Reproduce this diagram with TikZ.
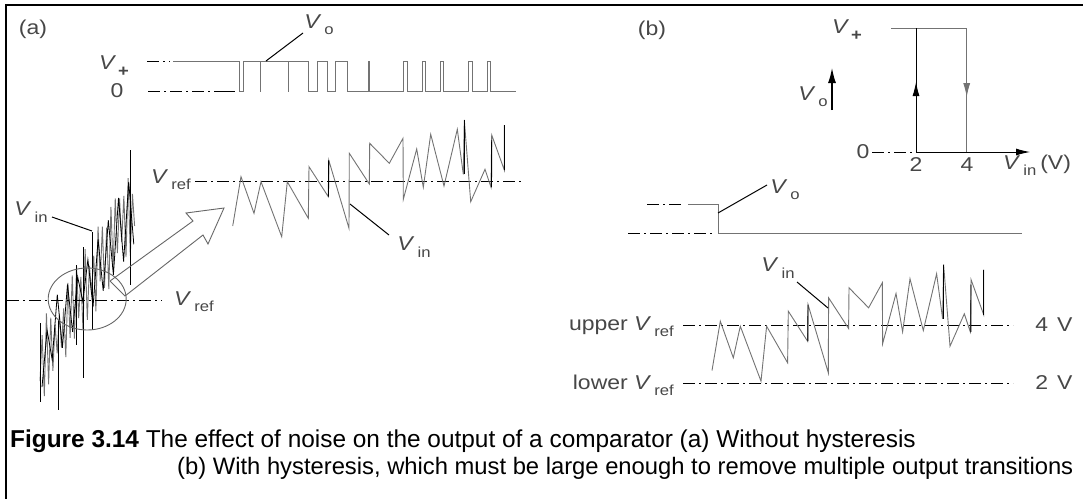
\documentclass[tikz,border=0pt]{standalone}
\usepackage{fontspec}
\setmainfont{Liberation Sans}
\newfontfamily\labfont{Liberation Sans}[FakeStretch=1.15]
\usetikzlibrary{arrows.meta}
\newcommand\Vx[1]{\textit{V}\kern3pt\raisebox{-0.6ex}{\fontsize{14.5}{14.5}\selectfont #1}}
\begin{document}
\begin{tikzpicture}[x=1pt,y=-1pt,
  lab/.style={font=\labfont\fontsize{20}{20}\selectfont, text=black!72, inner sep=0pt},
  captxt/.style={font=\fontsize{24.4}{24.4}\selectfont, text=black, inner sep=0pt, anchor=base west},
  wave/.style={black!55, line width=0.9pt},
  blk/.style={black, line width=0.9pt},
  dd/.style={black, line width=0.9pt, dash pattern=on 12pt off 4pt on 2pt off 4pt},
  lead/.style={black, line width=1pt},
  frame/.style={black, line width=1.5pt},
  zig/.pic={
    \draw[wave] (232.7,226) -- (241,176.7) -- (254,213.3) -- (261,181.7) -- (281.7,236.7) -- (287.3,181.7) -- (308.3,218.3) -- (309,166.7) -- (328.3,196.7) -- (328.7,160) -- (349,228.3) -- (349.3,153.3) -- (369.3,184) -- (369.7,143.3) -- (389.3,163.3) -- (403,138.3) -- (403.3,199.3) -- (416.7,149) -- (423.3,187.3) -- (430.7,134.3) -- (444,186) -- (457.3,129.3) -- (463.3,174.3) -- (464.3,120) -- (470.7,201.7) -- (485,169.3) -- (491,187.3) -- (491.7,135) -- (504.3,170) -- (504.3,125);
    \draw[blk] (328.5,196.7) -- (328.7,160);
    \draw[blk] (464.3,174.3) -- (464.3,120);
    \draw[blk] (504.3,170) -- (504.3,125);
    \draw[blk] (491.5,187.3) -- (491.7,140);
  }]
\useasboundingbox (0,0) rectangle (1083,499);
% frame
\draw[frame] (5,5) -- (1083,5);
\draw[frame] (6,5) -- (6,499);

% ---------------- panel (a) ----------------
\node[lab] (la) at (33,29) {(a)};
\node[lab] (aVp) at (114,66) {\textit{V}\kern2pt\raisebox{-0.7ex}{\bfseries\fontsize{16}{16}\selectfont +}};
\node[lab] (a0) at (117,91) {0};
\draw[dd] (147,61) -- (170,61);
\draw[dd] (148,91) -- (227,91);
% output waveform (a)
\draw[wave] (173,61) -- (239,61) -- (239,91) -- (243,91) -- (243,61) -- (260,61) -- (260,91) -- (260.6,91) -- (260.6,61)
  -- (288,61) -- (288,91) -- (288.6,91) -- (288.6,61) -- (308,61) -- (308,91) -- (317,91) -- (317,61)
  -- (327,61) -- (327,91) -- (335,91) -- (335,61) -- (347,61) -- (347,91) -- (368,91) -- (368,61)
  -- (369.5,61) -- (369.5,91) -- (403,91) -- (403,61) -- (407,61) -- (407,91) -- (422,91) -- (422,61)
  -- (425,61) -- (425,91) -- (440,91) -- (440,61) -- (443.5,61) -- (443.5,91) -- (468,91) -- (468,61)
  -- (472,61) -- (472,91) -- (487,91) -- (487,61) -- (490,61) -- (490,91) -- (516,91);
\draw[blk] (215,91) -- (235,91);
\node[lab] (aVo) at (319,25) {\Vx{o}};
\coordinate (aVoP) at (266,61);
\draw[lead] (aVoP) -- (303,33);

% noisy input (a)
\pgfmathsetseed{7}
\draw[wave] plot[domain=0:44, samples=45] ({40+2.15*\x},{365-3.6*\x+cos(180*\x)*(12+30*rnd)});
\pgfmathsetseed{19}
\draw[black, line width=0.8pt] plot[domain=0:18, samples=19] ({42+5.1*\x},{360-8.6*\x+cos(180*\x)*(10+30*rnd)});
\draw[blk] (40,323) -- (40,402);
\draw[blk] (58,320) -- (58,410);
\draw[blk] (76,265) -- (76,345);
\draw[blk] (83,247) -- (83,378);
\draw[blk] (92,232) -- (92,330);
\draw[blk] (130,150) -- (130,285);
\node[lab] (aVin) at (31,212) {\Vx{in}};
\coordinate (aVinP) at (92,231);
\draw[lead] (52,217) -- (aVinP);

% lower Vref (a)
\draw[dd] (7,300) -- (162,300);
\node[lab] (aVref2) at (194,302) {\Vx{ref}};
\draw[black!60, line width=0.9pt] (87.2,299) ellipse [x radius=39pt, y radius=31pt];
% hollow arrow
\draw[black!60, line width=0.9pt] (110,281) -- (193,221) -- (186,213) -- (224,208) -- (208,244) -- (203,235) -- (125,296) -- cycle;

% upper Vref (a)
\node[lab] (aVref1) at (171,180) {\Vx{ref}};
\draw[dd] (195,181) -- (523,181);
\pic at (0,0) {zig};
\node[lab] (aVin2) at (414,247) {\Vx{in}};
\coordinate (aVin2P) at (350,204);
\draw[lead] (aVin2P) -- (389,235);

% ---------------- panel (b) ----------------
\node[lab] (lb) at (652,30) {(b)};
\node[lab] (bVp) at (847,30) {\textit{V}\kern2pt\raisebox{-0.7ex}{\bfseries\fontsize{16}{16}\selectfont +}};
\coordinate (bO) at (916,152);
\coordinate (bTL) at (891,28.3);
\coordinate (bTR) at (966.7,28.3);
\coordinate (bBR) at (966.7,152);
\draw[wave] (bTL) -- (bTR) -- (bBR);
\draw[wave, -{Latex[length=14pt,width=7pt]}] (bTR) -- (966.7,97);
\draw[blk] (bO) -- (916,28.3);
\draw[blk, -{Latex[length=14pt,width=7pt]}] (bO) -- (916,82);
\draw[blk, -{Latex[length=14pt,width=7pt]}] (bO) -- (1030,152);
\draw[dd] (872,152) -- (bO);
\node[lab] (b0) at (863,152) {0};
\node[lab] (b2) at (916,165) {2};
\node[lab] (b4) at (967,165) {4};
\node[lab, anchor=west] (bVin) at (1003,165) {\Vx{in}\kern4pt(V)};
\draw[black, line width=2.2pt, -{Latex[length=16pt,width=8pt]}] (832,110) -- (832,67);
\node[lab] (bVo) at (813,97) {\Vx{o}};

% output waveform (b)
\draw[dd] (647,204) -- (682,204);
\draw[dd] (628,233) -- (713,233);
\draw[wave] (688,204) -- (718,204) -- (718,233) -- (1022,233);
\node[lab] (bVo2) at (785,190) {\Vx{o}};
\coordinate (bVoP) at (718,213);
\draw[lead] (bVoP) -- (767,185);

% Vref lines (b)
\draw[dd] (683,325) -- (1013,325);
\draw[dd] (683,383) -- (1013,383);
\node[lab, anchor=east] (bup) at (674,327) {upper \Vx{ref}};
\node[lab, anchor=east] (blo) at (674,385) {lower \Vx{ref}};
\node[lab] (b4V) at (1054,325) {4\kern9pt V};
\node[lab] (b2V) at (1054,383) {2\kern9pt V};
\pic at (479.3,144.5) {zig};
\node[lab] (bVin2) at (778,268) {\Vx{in}};
\coordinate (bVin2P) at (828,308);
\draw[lead] (797,282) -- (bVin2P);

% caption
\node[captxt] (cap1) at (10,447) {\textbf{Figure 3.14} The effect of noise on the output of a comparator (a) Without hysteresis};
\node[captxt] (cap2) at (177,474) {\resizebox{896pt}{!}{(b) With hysteresis, which must be large enough to remove multiple output transitions}};
\end{tikzpicture}
\end{document}
